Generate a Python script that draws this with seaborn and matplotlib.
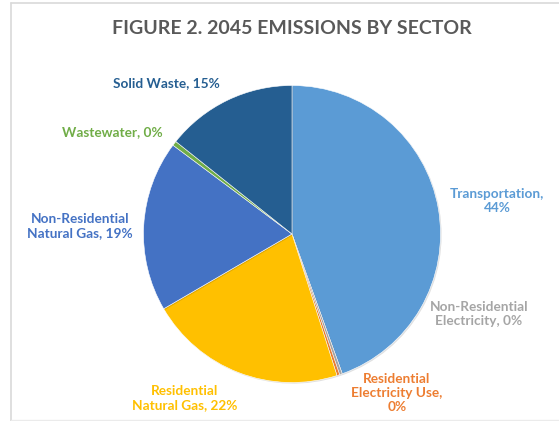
import matplotlib
matplotlib.use("Agg")
import matplotlib.pyplot as plt
import seaborn as sns
from matplotlib.lines import Line2D
import matplotlib.patheffects as pe

sns.set_theme(style="white")
plt.rcParams['font.family'] = ['Lato', 'DejaVu Sans']

sectors = ["Transportation", "Non-Residential Electricity", "Residential Electricity Use",
           "Residential Natural Gas", "Non-Residential Natural Gas", "Wastewater", "Solid Waste"]
values = [44.5, 0.3, 0.3, 21.5, 18.6, 0.5, 14.3]
label_texts = ["Transportation,\n44%", "Non-Residential\nElectricity, 0%",
               "Residential\nElectricity Use,\n0%", "Residential\nNatural Gas, 22%",
               "Non-Residential\nNatural Gas, 19%", "Wastewater, 0%", "Solid Waste, 15%"]
colors = ["#5B9BD5", "#A5A5A5", "#ED7D31", "#FFC000", "#4472C4", "#70AD47", "#255E91"]
label_pos_px = [(497, 201), (479, 314), (397, 393), (185, 398), (80, 226), (112, 132), (166, 83)]

W, H = 559, 421
fig = plt.figure(figsize=(W / 100, H / 100), dpi=100)
fig.patch.set_facecolor("white")

# frame (partially cropped chart border)
fig.add_artist(Line2D([10.5 / W, 10.5 / W], [0, 1 - 3 / H], color="#D9D9D9", lw=1.2))
fig.add_artist(Line2D([10.5 / W, 1], [1 - 3 / H, 1 - 3 / H], color="#D9D9D9", lw=1.2))
fig.add_artist(Line2D([10.5 / W, 1], [1.0 / H, 1.0 / H], color="#EBEBEB", lw=1.0))

cx, cy, r = 292, 234, 150
ax = fig.add_axes([(cx - r) / W, (H - cy - r) / H, 2 * r / W, 2 * r / H])
wedges, _ = ax.pie(values, colors=colors, startangle=90, counterclock=False, radius=1,
                   wedgeprops=dict(edgecolor="white", linewidth=0.4))
for w in wedges:
    w.set_path_effects([pe.SimplePatchShadow(offset=(0.8, -0.8), shadow_rgbFace="#000000", alpha=0.12),
                        pe.Normal()])
ax.set_xlim(-1.01, 1.01)
ax.set_ylim(-1.01, 1.01)
ax.set_aspect("equal", adjustable="box")
ax.axis("off")

fig.text(292 / W, 1 - 29 / H, "FIGURE 2. 2045 EMISSIONS BY SECTOR", ha="center", va="center",
         fontsize=14, fontweight="bold", color="#595959")

for txt, (px, py), c in zip(label_texts, label_pos_px, colors):
    fig.text(px / W, 1 - py / H, txt, ha="center", va="center", fontsize=9.8,
             fontweight="bold", color=c, linespacing=1.2)

fig.savefig("out.png", dpi=100, facecolor="white")
